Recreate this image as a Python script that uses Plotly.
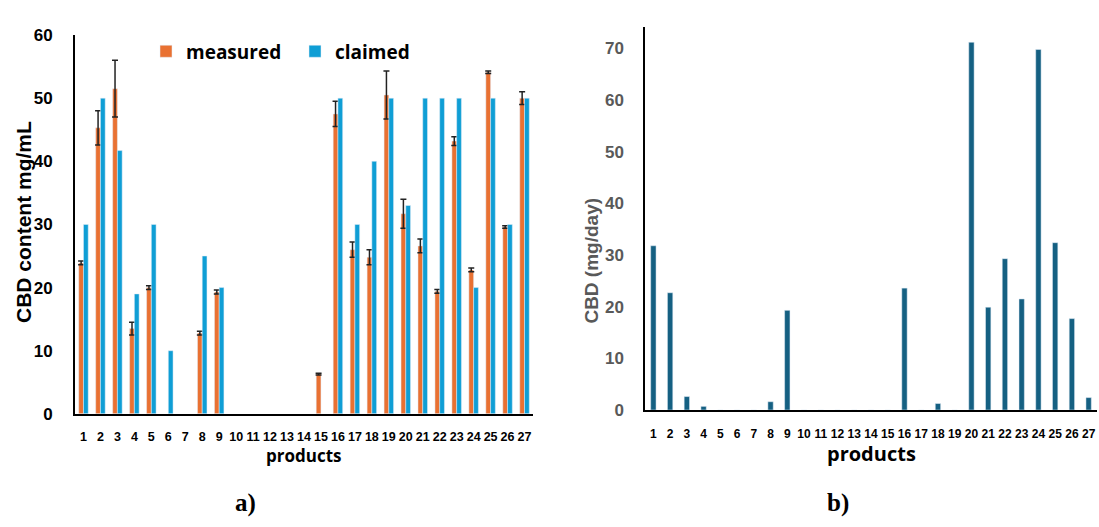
import plotly.graph_objects as go

products = [str(i) for i in range(1, 28)]

measured = [23.9, 45.3, 51.5, 13.5, 20.0, None, None, 12.8, 19.3, None, None, None, None, None,
            6.3, 47.5, 26.0, 24.8, 50.5, 31.7, 26.6, 19.4, 43.2, 22.8, 54.1, 29.6, 50.0]
measured_err = [0.3, 2.7, 4.5, 1.0, 0.3, None, None, 0.3, 0.3, None, None, None, None, None,
                0.15, 2.0, 1.2, 1.2, 3.8, 2.3, 1.1, 0.3, 0.7, 0.3, 0.2, 0.2, 1.0]
claimed = [30, 50, 41.7, 19, 30, 10, None, 25, 20, None, None, None, None, None,
           None, 50, 30, 40, 50, 33, 50, 50, 50, 20, 50, 30, 50]

daily = [31.8, 22.7, 2.6, 0.7, 0, 0, 0, 1.6, 19.3, 0, 0, 0, 0, 0,
         0, 23.6, 0, 1.25, 0, 71.2, 19.9, 29.3, 21.5, 69.8, 32.4, 17.7, 2.4]

W, H = 1099, 527
def px(x): return x / W
def py(y): return 1 - y / H

ORANGE = "#E97132"
BLUE = "#0F9ED5"
TEAL = "#156082"
FONT = "Liberation Sans"
FONT2 = "Open Sans"

fig = go.Figure()
fig.add_trace(go.Bar(x=products, y=measured, name="measured", marker_color=ORANGE,
                     error_y=dict(type="data", array=measured_err, color="#222222",
                                  thickness=1.5, width=3),
                     xaxis="x", yaxis="y"))
fig.add_trace(go.Bar(x=products, y=claimed, name="claimed", marker_color=BLUE,
                     xaxis="x", yaxis="y"))
fig.add_trace(go.Bar(x=products, y=daily, name="daily", marker_color=TEAL, width=0.32,
                     showlegend=False, xaxis="x2", yaxis="y2"))

fig.update_layout(
    width=W, height=H, margin=dict(l=0, r=0, t=0, b=0),
    paper_bgcolor="white", plot_bgcolor="white",
    barmode="group", bargap=0.44, bargroupgap=0,
    font=dict(family=FONT, color="black"),
    showlegend=True,
    legend=dict(orientation="h", x=px(146), y=py(44), xanchor="left", yanchor="middle",
                font=dict(family=FONT2, size=19, color="black", weight="bold"),
                bgcolor="rgba(0,0,0,0)", entrywidth=104, entrywidthmode="pixels",
                traceorder="normal"),
    xaxis=dict(domain=[px(75), px(533)], anchor="y", type="category",
               range=[-0.5, 26.5], showline=True, linecolor="black", linewidth=2,
               showgrid=False, ticks="", ticklabelstandoff=10, tickangle=0,
               tickmode="array", tickvals=products, ticktext=products,
               tickfont=dict(size=12.5, color="black", weight="bold")),
    yaxis=dict(domain=[py(420), py(27)], anchor="x", range=[0, 60], dtick=10,
               showline=True, linecolor="black", linewidth=2, showgrid=False,
               zeroline=False, ticks="", ticklabelstandoff=17,
               tickfont=dict(size=17, color="black", weight="bold")),
    xaxis2=dict(domain=[px(645), px(1097)], anchor="y2", type="category",
                range=[-0.5, 26.5], showline=True, linecolor="black", linewidth=1.5,
                showgrid=False, ticks="", ticklabelstandoff=12, tickangle=0,
                tickmode="array", tickvals=products, ticktext=products,
                tickfont=dict(size=12, color="black", weight="bold")),
    yaxis2=dict(domain=[py(416), py(19)], anchor="x2", range=[0, 74.1], dtick=10,
                showline=True, linecolor="black", linewidth=1.5, showgrid=False,
                zeroline=False, ticks="", ticklabelstandoff=16,
                tickfont=dict(size=17, color="#595959", weight="bold")),
)

ann = [
    dict(text="CBD content mg/mL", x=px(23), y=py(221), textangle=-90,
         font=dict(size=21, color="black", weight="bold")),
    dict(text="CBD (mg/day)", x=px(592), y=py(261), textangle=-90,
         font=dict(size=19, color="#595959", weight="bold")),
    dict(text="products", x=px(304), y=py(463),
         font=dict(family=FONT2, size=17, color="black", weight="bold")),
    dict(text="products", x=px(871), y=py(461),
         font=dict(family=FONT2, size=20, color="black", weight="bold")),
    dict(text="a)", x=px(245), y=py(512),
         font=dict(family="Liberation Serif", size=25, color="black", weight="bold")),
    dict(text="b)", x=px(838), y=py(512),
         font=dict(family="Liberation Serif", size=25, color="black", weight="bold")),
]
for a in ann:
    a.update(xref="paper", yref="paper", showarrow=False, xanchor="center", yanchor="middle")
    fig.add_annotation(**a)

fig.write_html("out.html")
